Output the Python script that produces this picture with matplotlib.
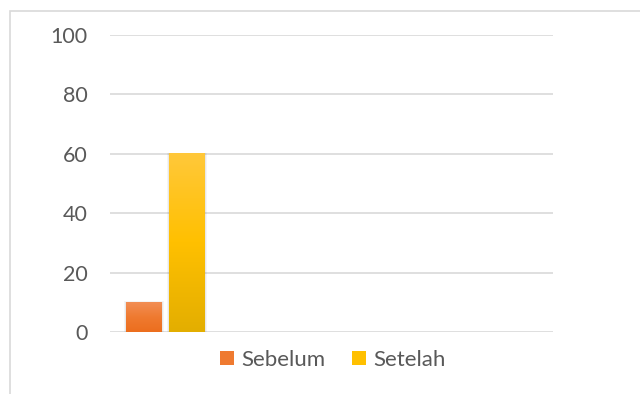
import numpy as np
import matplotlib.pyplot as plt
from matplotlib.patches import Rectangle, Patch
from matplotlib.colors import LinearSegmentedColormap

plt.rcParams['font.family'] = ['Lato', 'DejaVu Sans']

# data
categories = ['1', '2', '3', '4']
sebelum = [10, 0, 0, 0]
setelah = [60, 0, 0, 0]
series_names = ['Sebelum', 'Setelah']
yticks = [0, 20, 40, 60, 80, 100]

txt_color = '#595959'
grid_color = '#D9D9D9'
orange_cmap = LinearSegmentedColormap.from_list('o', ['#EC6E1E', '#EF7A30', '#F28E55'])
yellow_cmap = LinearSegmentedColormap.from_list('y', ['#E3AE00', '#FFC000', '#FFC83A'])

fig = plt.figure(figsize=(6.4, 3.94), dpi=100)
ax = fig.add_axes([110/640, 62/394, 443/640, 297/394])

# chart border (only top and left visible in the crop)
fig.patches.append(Rectangle((10/640, -0.1), 1.2, 1.1 - 11/394,
                             transform=fig.transFigure, fill=False,
                             edgecolor=grid_color, linewidth=1.2))

x = np.arange(len(categories))
w = 0.325
gap = 0.063
off = (w + gap) / 2
bars1 = ax.bar(x - off, sebelum, w, color='#ED7D31', zorder=3)
bars2 = ax.bar(x + off, setelah, w, color='#FFC000', zorder=3)

grad = np.linspace(0, 1, 256).reshape(-1, 1)
for bars, cmap in [(bars1, orange_cmap), (bars2, yellow_cmap)]:
    for b in bars:
        if b.get_height() <= 0:
            continue
        x0, y0 = b.get_x(), b.get_y()
        bw, bh = b.get_width(), b.get_height()
        # soft shadow
        for k, a in [(0.018, 0.04), (0.01, 0.05)]:
            ax.add_patch(Rectangle((x0 - k, y0), bw + 2 * k, bh + k * 15,
                                   facecolor='#000000', alpha=a,
                                   edgecolor='none', zorder=2))
        ax.imshow(grad, cmap=cmap, origin='lower', aspect='auto',
                  extent=(x0, x0 + bw, y0, y0 + bh), zorder=4)
        b.set_facecolor('none')

ax.set_xlim(-0.5, len(categories) - 0.5)
ax.set_ylim(0, 100)
ax.set_yticks(yticks)
ax.set_xticks([])
ax.yaxis.grid(True, color=grid_color, linewidth=1.2)
ax.set_axisbelow(True)
for s in ax.spines.values():
    s.set_visible(False)
ax.tick_params(axis='y', length=0, pad=16, labelsize=15.5, labelcolor=txt_color)

handles = [Patch(facecolor='#EF7A30', edgecolor='none'),
           Patch(facecolor='#FFC000', edgecolor='none')]
fig.legend(handles, series_names, loc='center', bbox_to_anchor=(333/640, 1 - 360/394),
           ncol=2, frameon=False, fontsize=16, labelcolor=txt_color,
           handlelength=0.6, handleheight=0.6, handletextpad=0.35, columnspacing=1.2)

fig.savefig('out.png', dpi=100)
